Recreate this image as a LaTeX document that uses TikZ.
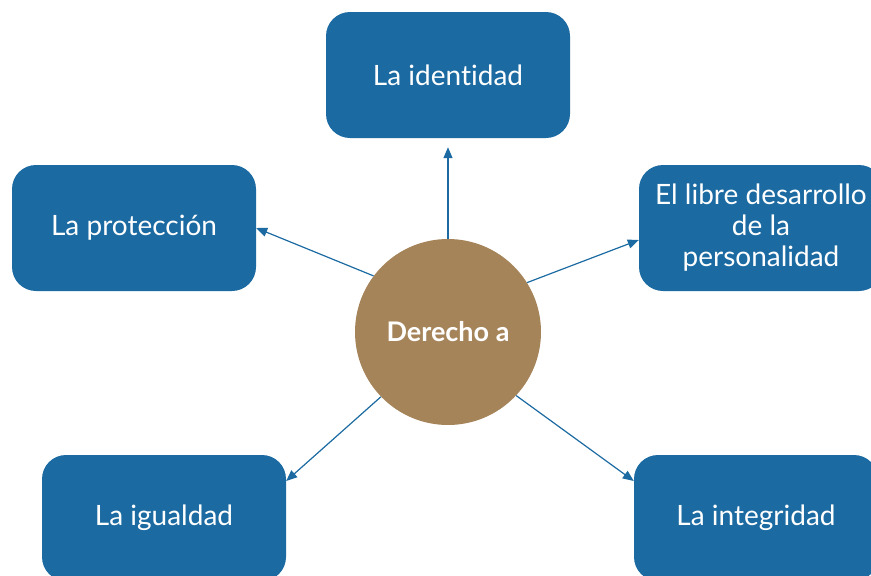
\documentclass[tikz,border=0pt]{standalone}
\usepackage{fontspec}
\setmainfont{Lato}[Ligatures=NoCommon]
\usetikzlibrary{arrows.meta}
\definecolor{boxblue}{HTML}{1B6AA1}
\definecolor{hubbrown}{HTML}{A6845A}
\newcommand{\boxw}{244pt}
\newcommand{\boxh}{126pt}

\begin{document}
\begin{tikzpicture}[x=1pt,y=-1pt]
	
	\tikzset{topic/.style = {rectangle, rounded corners=24pt, fill=boxblue, text=white,
			minimum width=\boxw, minimum height=\boxh, align=center,
			font=\fontsize{28}{31}\selectfont}}
	\tikzset{hub/.style = {circle, fill=hubbrown, text=white, minimum size=186pt,
			inner sep=0pt, font=\fontsize{27}{30}\selectfont\bfseries}}
	\tikzset{link/.style = {draw=boxblue, line width=1.2pt, -{Triangle[length=11pt,width=9pt]}}}
	%\draw[help lines] (0,0) grid[step=50] (871,576);
	\useasboundingbox (0,0) rectangle (871,576);
	\clip (0,0) rectangle (871,576);
	
	\node[hub] (derecho) at (448,332) {Derecho a};
	
	\node[topic] (ident) at (448,75) {La identidad};
	\node[topic] (prot) at (134,228) {La protección};
	\node[topic] (libre) at (761,228) {El libre desarrollo\\de la\\personalidad};
	\node[topic] (igual) at (164,518) {La igualdad};
	\node[topic] (integ) at (756,518) {La integridad};
	
	\draw[link, shorten >=9pt] (derecho.north) -- (ident.south);
	\draw[link] (derecho.143) -- (prot.east);
	\draw[link] (derecho.32) -- ([yshift=-12pt]libre.west);
	\draw[link] (derecho.224) -- ([yshift=37pt]igual.east);
	\draw[link] (derecho.-43) -- ([yshift=37pt]integ.west);
\end{tikzpicture}
\end{document}
